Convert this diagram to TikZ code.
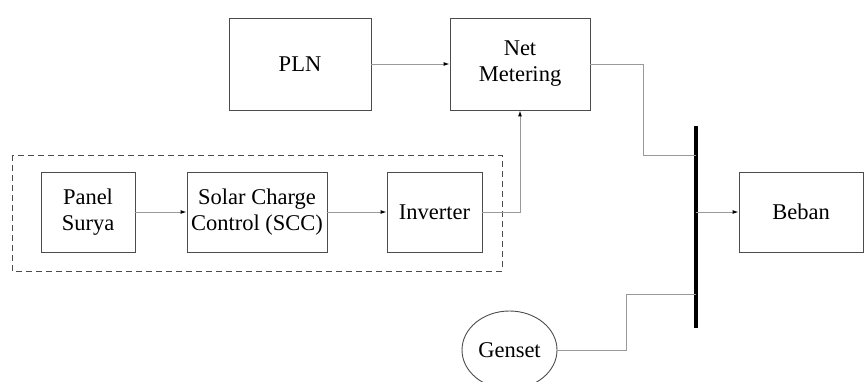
\documentclass[tikz,border=0pt]{standalone}
\usepackage{fontspec}
\setmainfont{Liberation Serif}
\usetikzlibrary{arrows.meta,shapes.geometric}
\begin{document}
\begin{tikzpicture}[x=1pt,y=-1pt,
  txt/.style={font=\fontsize{22.5}{26}\selectfont},
  blk/.style={draw=black!70, line width=0.9pt, rectangle, inner sep=0pt, align=center, txt},
  conn/.style={draw=black!40, line width=1pt},
  arr/.style={conn, -{Latex[length=6pt,width=4pt,color=black]}},
  bus/.style={draw=black, line width=4pt},
  grp/.style={draw=black!70, line width=0.9pt, dash pattern=on 6pt off 4pt}]
\useasboundingbox (0,0) rectangle (865,381);
% group
\draw[grp] (12,155) rectangle (502,271);
% nodes
\node[blk, minimum width=142pt, minimum height=92pt] (pln) at (300,64) {PLN};
\node[blk, minimum width=140pt, minimum height=92pt] (net) at (520,64) {Net\\Metering};
\node[blk, minimum width=94pt, minimum height=80pt] (pan) at (88,212) {Panel\\Surya};
\node[blk, minimum width=140pt, minimum height=80pt] (scc) at (257,212) {Solar Charge\\Control (SCC)};
\node[blk, minimum width=95pt, minimum height=80pt] (inv) at (434.5,212) {Inverter};
\node[blk, minimum width=124pt, minimum height=80pt] (beb) at (801,212) {Beban};
\node[draw=black!70, line width=0.9pt, ellipse, inner sep=0pt, minimum width=95pt, minimum height=78pt, txt] (gen) at (509.5,350) {Genset};
% bus
\coordinate (bt) at (696,126);
\coordinate (bb) at (696,328);
\draw[bus] (bt) -- (bb);
\coordinate (bn) at (696,155);
\coordinate (bl) at (696,212);
\coordinate (bg) at (696,294);
\coordinate (nc) at (643,64);
\coordinate (gc) at (626,350);
% connectors
\draw[arr] (pln.east) -- (net.west);
\draw[arr] (pan.east) -- (scc.west);
\draw[arr] (scc.east) -- (inv.west);
\draw[arr] (inv.east) -| (net.south);
\draw[conn] (net.east) -- (nc) |- (bn);
\draw[arr] (bl) -- (beb.west);
\draw[conn] (gen.east) -- (gc) |- (bg);
\end{tikzpicture}
\end{document}
